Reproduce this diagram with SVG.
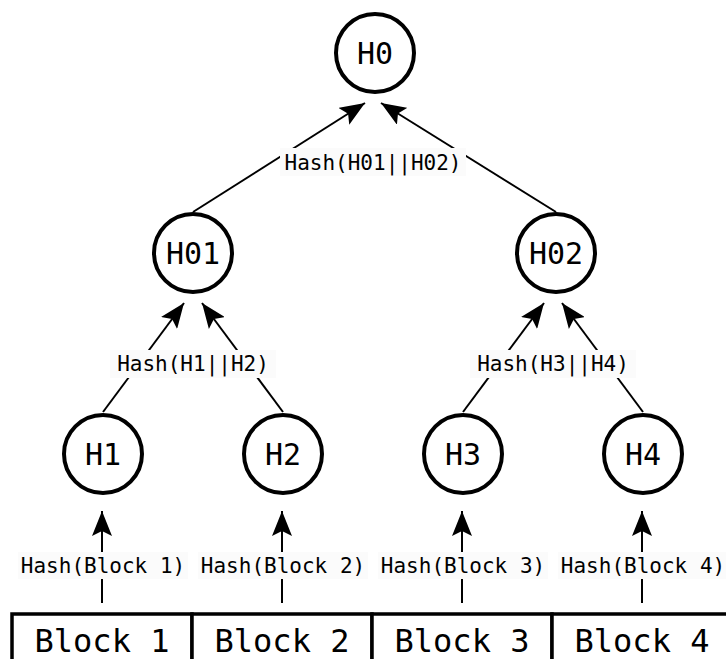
<svg xmlns="http://www.w3.org/2000/svg" width="726" height="659" viewBox="0 0 726 659">
<style>
.node{fill:#fff;stroke:#000;stroke-width:4}
.nt{font-family:"DejaVu Sans Mono",monospace;font-size:30px;text-anchor:middle;fill:#000}
.bt{font-family:"DejaVu Sans Mono",monospace;font-size:32px;text-anchor:middle;fill:#000}
.lbl{font-family:"DejaVu Sans Mono",monospace;font-size:21px;text-anchor:middle;fill:#000}
.lbg{fill:#fbfbfb;stroke:none}
.edge{stroke:#000;stroke-width:2;fill:none;marker-end:url(#ah)}
.blk{fill:#fff;stroke:#000;stroke-width:3.5}
</style>
<defs>
<marker id="ah" markerWidth="26" markerHeight="20" refX="25" refY="10" orient="auto" markerUnits="userSpaceOnUse">
<path d="M0,0 L25,10 L0,20 L5,10 Z" fill="#000"/>
</marker>
</defs>
<rect width="726" height="659" fill="#fff"/>
<g id="connectors">
<line class="edge" x1="193" y1="212" x2="365" y2="103"/>
<line class="edge" x1="556" y1="212" x2="381" y2="103"/>
<line class="edge" x1="103" y1="412" x2="184" y2="303"/>
<line class="edge" x1="283" y1="412" x2="202" y2="303"/>
<line class="edge" x1="463" y1="412" x2="544" y2="303"/>
<line class="edge" x1="643" y1="412" x2="562" y2="303"/>
<line class="edge" x1="102" y1="603" x2="102" y2="511"/>
<line class="edge" x1="282" y1="603" x2="282" y2="511"/>
<line class="edge" x1="462" y1="603" x2="462" y2="511"/>
<line class="edge" x1="642" y1="603" x2="642" y2="511"/>
<rect class="lbg" x="280" y="148" width="186" height="28"/>
<text class="lbl" x="373" y="170">Hash(H01||H02)</text>
<rect class="lbg" x="110" y="350" width="166" height="28"/>
<text class="lbl" x="193" y="371">Hash(H1||H2)</text>
<rect class="lbg" x="470" y="350" width="166" height="28"/>
<text class="lbl" x="553" y="371">Hash(H3||H4)</text>
<rect class="lbg" x="18" y="552" width="170" height="27"/>
<text class="lbl" x="103" y="573">Hash(Block 1)</text>
<rect class="lbg" x="198" y="552" width="170" height="27"/>
<text class="lbl" x="283" y="573">Hash(Block 2)</text>
<rect class="lbg" x="378" y="552" width="170" height="27"/>
<text class="lbl" x="463" y="573">Hash(Block 3)</text>
<rect class="lbg" x="558" y="552" width="170" height="27"/>
<text class="lbl" x="643" y="573">Hash(Block 4)</text>
</g>
<g id="H0"><circle class="node" cx="375" cy="53" r="39"/><text class="nt" x="375" y="64">H0</text></g>
<g id="H01"><circle class="node" cx="193" cy="253" r="39"/><text class="nt" x="193" y="264">H01</text></g>
<g id="H02"><circle class="node" cx="556" cy="253" r="39"/><text class="nt" x="556" y="264">H02</text></g>
<g id="H1"><circle class="node" cx="103" cy="454" r="39"/><text class="nt" x="103" y="465">H1</text></g>
<g id="H2"><circle class="node" cx="283" cy="454" r="39"/><text class="nt" x="283" y="465">H2</text></g>
<g id="H3"><circle class="node" cx="463" cy="454" r="39"/><text class="nt" x="463" y="465">H3</text></g>
<g id="H4"><circle class="node" cx="643" cy="454" r="39"/><text class="nt" x="643" y="465">H4</text></g>
<g id="Block1"><rect class="blk" x="12" y="614" width="180" height="60"/><text class="bt" x="102" y="652">Block 1</text></g>
<g id="Block2"><rect class="blk" x="192" y="614" width="180" height="60"/><text class="bt" x="282" y="652">Block 2</text></g>
<g id="Block3"><rect class="blk" x="372" y="614" width="180" height="60"/><text class="bt" x="462" y="652">Block 3</text></g>
<g id="Block4"><rect class="blk" x="552" y="614" width="180" height="60"/><text class="bt" x="642" y="652">Block 4</text></g>
</svg>
